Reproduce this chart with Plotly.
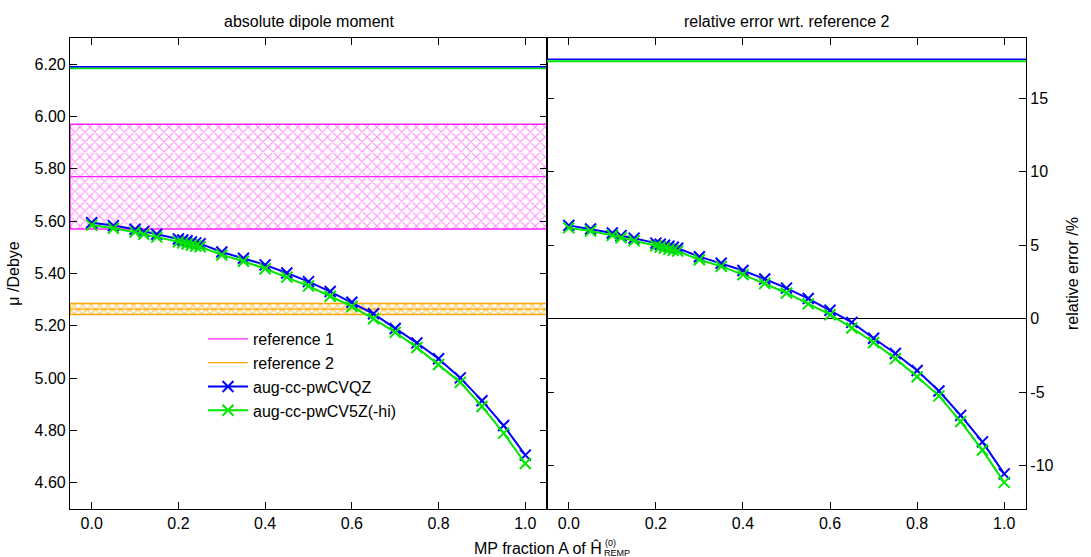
import plotly.graph_objects as go

# ---------------- data ----------------
x_frac = [0.0, 0.05, 0.10, 0.12, 0.15, 0.20, 0.21, 0.22, 0.23, 0.24, 0.25,
          0.30, 0.35, 0.40, 0.45, 0.50, 0.55, 0.60, 0.65, 0.70, 0.75, 0.80,
          0.85, 0.90, 0.95, 1.00]

qz_abs = [5.594, 5.583, 5.569, 5.561, 5.550, 5.532, 5.528, 5.525, 5.521, 5.517, 5.514,
          5.482, 5.458, 5.433, 5.402, 5.369, 5.331, 5.290, 5.246, 5.190, 5.135, 5.074,
          5.001, 4.914, 4.819, 4.706]
v5z_abs = [5.585, 5.573, 5.558, 5.550, 5.539, 5.521, 5.517, 5.513, 5.509, 5.505, 5.502,
           5.471, 5.447, 5.418, 5.386, 5.352, 5.313, 5.274, 5.227, 5.175, 5.117, 5.052,
           4.984, 4.892, 4.790, 4.674]

qz_rel = [6.35, 6.10, 5.83, 5.65, 5.48, 5.14, 5.07, 5.00, 4.93, 4.86, 4.79,
          4.22, 3.77, 3.28, 2.70, 2.08, 1.37, 0.58, -0.25, -1.33, -2.37, -3.53,
          -4.92, -6.58, -8.38, -10.56]
v5z_rel = [6.18, 5.97, 5.67, 5.51, 5.30, 4.96, 4.88, 4.81, 4.73, 4.66, 4.60,
           4.01, 3.56, 3.00, 2.40, 1.75, 1.01, 0.27, -0.63, -1.62, -2.72, -3.95,
           -5.25, -7.00, -8.94, -11.14]

qz_limit_abs = 6.190
v5z_limit_abs = 6.184
qz_limit_rel = 17.65
v5z_limit_rel = 17.52

ref1_value, ref1_err = 5.77, 0.20
ref2_value, ref2_err = 5.264, 0.021

x_range = [-0.05, 1.05]
y_abs_range = [4.5, 6.3]
y_rel_range = [-12.95, 19.1]
x_ticks = [0.0, 0.2, 0.4, 0.6, 0.8, 1.0]
y_rel_ticks = [-10, -5, 0, 5, 10, 15]
y_rel_ticktext = ["-10", "-5", "0", "5", "10", "15"]

# ---------------- style ----------------
FONT = "Liberation Sans, Arial, sans-serif"
MAGENTA = "#ff22ff"
ORANGE = "#ffa500"
BLUE = "#0000ff"
GREEN = "#00e600"

fig = go.Figure()


def band(value, err, color, size, solidity):
    lo, hi = value - err, value + err
    return go.Scatter(
        x=[x_range[0], x_range[1], x_range[1], x_range[0], x_range[0]],
        y=[lo, lo, hi, hi, lo],
        mode="lines", fill="toself", fillcolor="rgba(255,255,255,0)",
        fillpattern=dict(shape="x", fgcolor=color, bgcolor="rgba(255,255,255,0)",
                         size=size, solidity=solidity),
        line=dict(color=color, width=1.5),
        showlegend=False, hoverinfo="skip", xaxis="x", yaxis="y")


fig.add_trace(band(ref1_value, ref1_err, MAGENTA, 7, 0.3))
fig.add_trace(band(ref2_value, ref2_err, ORANGE, 6, 0.45))

fig.add_trace(go.Scatter(x=x_range, y=[ref1_value, ref1_value], mode="lines",
                         line=dict(color=MAGENTA, width=1.2), name="reference 1",
                         xaxis="x", yaxis="y"))
fig.add_trace(go.Scatter(x=x_range, y=[ref2_value, ref2_value], mode="lines",
                         line=dict(color=ORANGE, width=1.2), name="reference 2",
                         xaxis="x", yaxis="y"))

# limit lines (left)
fig.add_trace(go.Scatter(x=x_range, y=[v5z_limit_abs] * 2, mode="lines",
                         line=dict(color=GREEN, width=2), showlegend=False,
                         xaxis="x", yaxis="y"))
fig.add_trace(go.Scatter(x=x_range, y=[qz_limit_abs] * 2, mode="lines",
                         line=dict(color=BLUE, width=1.5), showlegend=False,
                         xaxis="x", yaxis="y"))
# limit lines (right)
fig.add_trace(go.Scatter(x=x_range, y=[v5z_limit_rel] * 2, mode="lines",
                         line=dict(color=GREEN, width=2), showlegend=False,
                         xaxis="x2", yaxis="y2"))
fig.add_trace(go.Scatter(x=x_range, y=[qz_limit_rel] * 2, mode="lines",
                         line=dict(color=BLUE, width=1.5), showlegend=False,
                         xaxis="x2", yaxis="y2"))

mk = dict(symbol="x-thin", size=11)

fig.add_trace(go.Scatter(x=x_frac, y=qz_abs, mode="lines+markers", name="aug-cc-pwCVQZ",
                         line=dict(color=BLUE, width=2),
                         marker=dict(**mk, color=BLUE, line=dict(color=BLUE, width=2)),
                         xaxis="x", yaxis="y"))
fig.add_trace(go.Scatter(x=x_frac, y=v5z_abs, mode="lines+markers", name="aug-cc-pwCV5Z(-hi)",
                         line=dict(color=GREEN, width=2),
                         marker=dict(**mk, color=GREEN, line=dict(color=GREEN, width=2)),
                         xaxis="x", yaxis="y"))
fig.add_trace(go.Scatter(x=x_frac, y=qz_rel, mode="lines+markers", showlegend=False,
                         line=dict(color=BLUE, width=2),
                         marker=dict(**mk, color=BLUE, line=dict(color=BLUE, width=2)),
                         xaxis="x2", yaxis="y2"))
fig.add_trace(go.Scatter(x=x_frac, y=v5z_rel, mode="lines+markers", showlegend=False,
                         line=dict(color=GREEN, width=2),
                         marker=dict(**mk, color=GREEN, line=dict(color=GREEN, width=2)),
                         xaxis="x2", yaxis="y2"))

axis_common = dict(showline=True, linecolor="black", linewidth=1.2, mirror="ticks",
                   ticks="inside", ticklen=7, tickcolor="black", tickwidth=1,
                   showgrid=False, zeroline=False,
                   tickfont=dict(family=FONT, size=16, color="black"))

split = (547 - 70) / (1091 - 70 - 65)

fig.update_layout(
    width=1091, height=557,
    margin=dict(l=70, r=65, t=38, b=48),
    paper_bgcolor="white", plot_bgcolor="white",
    font=dict(family=FONT, size=16, color="black"),
    xaxis=dict(domain=[0, split], range=x_range, tickvals=x_ticks, tickformat=".1f",
               anchor="y", **axis_common),
    yaxis=dict(domain=[0, 1], range=y_abs_range, dtick=0.2, tickformat=".2f",
               anchor="x", title=dict(text="μ /Debye", standoff=10,
                                      font=dict(family=FONT, size=16)),
               **axis_common),
    xaxis2=dict(domain=[split, 1], range=x_range, tickvals=x_ticks, tickformat=".1f",
                anchor="y2", **axis_common),
    yaxis2=dict(domain=[0, 1], range=y_rel_range, tickvals=y_rel_ticks,
                ticktext=y_rel_ticktext, side="right", anchor="x2",
                title=dict(text="relative error /%", standoff=14,
                           font=dict(family=FONT, size=16)),
                **{**axis_common, "zeroline": True},
                zerolinecolor="black", zerolinewidth=1),
    legend=dict(x=(402 - 70) / 956, xanchor="right", y=(509 - 322) / 471, yanchor="top",
                bgcolor="rgba(255,255,255,0)", font=dict(family=FONT, size=16),
                tracegroupgap=0, itemwidth=40),
    showlegend=True,
)

fig.add_annotation(text="absolute dipole moment", x=split / 2, xref="paper",
                   xanchor="center", y=1, yref="paper", yanchor="bottom", yshift=6,
                   showarrow=False, font=dict(family=FONT, size=16))
fig.add_annotation(text="relative error wrt. reference 2", x=(split + 1) / 2, xref="paper",
                   xanchor="center", y=1, yref="paper", yanchor="bottom", yshift=6,
                   showarrow=False, font=dict(family=FONT, size=16))

# x-axis title (shared)
fig.add_annotation(text="MP fraction A of Ĥ", x=(604 - 70) / 956, xref="paper",
                   xanchor="right", y=0, yref="paper", yanchor="middle", yshift=-39,
                   showarrow=False, font=dict(family=FONT, size=16))
fig.add_annotation(text="(0)", x=(603 - 70) / 956, xref="paper", xanchor="left",
                   y=0, yref="paper", yanchor="middle", yshift=-34, showarrow=False,
                   font=dict(family=FONT, size=9))
fig.add_annotation(text="REMP", x=(602 - 70) / 956, xref="paper", xanchor="left",
                   y=0, yref="paper", yanchor="middle", yshift=-44, showarrow=False,
                   font=dict(family=FONT, size=9))

fig.write_html("out.html")
